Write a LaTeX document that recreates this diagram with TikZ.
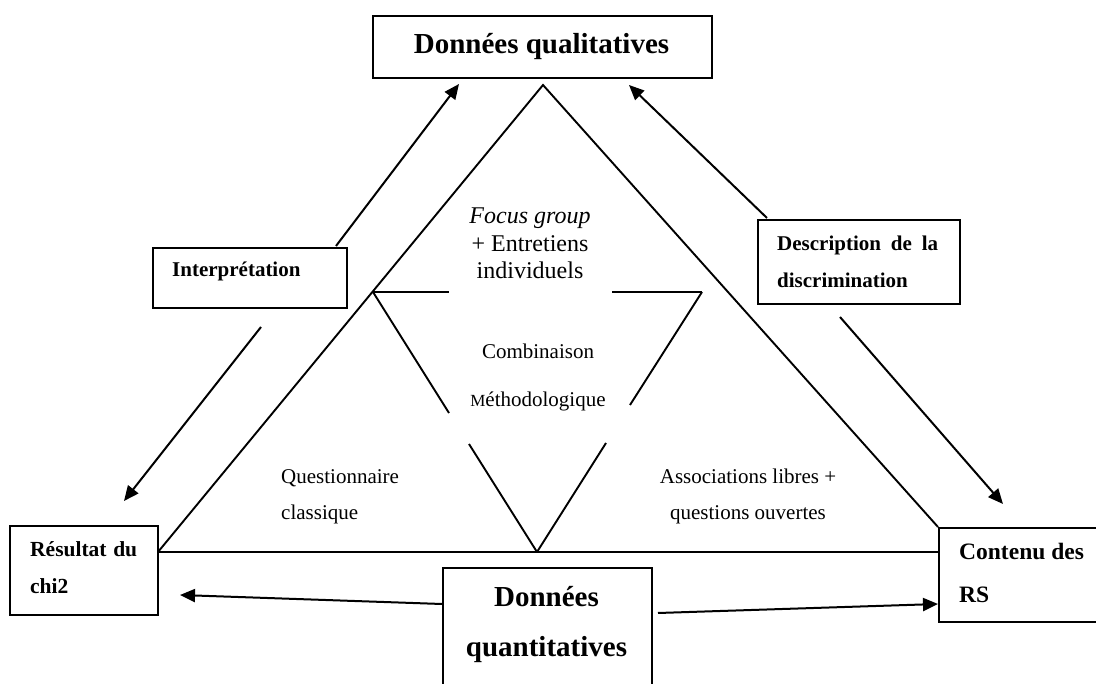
\documentclass[tikz,border=0pt]{standalone}
\usepackage{fontspec}
\setmainfont{Liberation Serif}
\usetikzlibrary{arrows.meta}
\begin{document}
\begin{tikzpicture}[x=1pt,y=-1pt,
  trl/.style={line width=1.9pt},
  boxn/.style={draw,line width=1.8pt,inner sep=0pt,anchor=north west},
  arr/.style={line width=2pt,-{Triangle[length=15pt,width=13pt]}},
  txt/.style={inner sep=0pt,anchor=base},
  txtl/.style={inner sep=0pt,anchor=base west},
  bigb/.style={font=\fontsize{29}{34}\selectfont\bfseries},
  midb/.style={font=\fontsize{21}{25}\selectfont\bfseries},
  regt/.style={font=\fontsize{24}{28}\selectfont},
  regm/.style={font=\fontsize{21}{25}\selectfont}
]
\useasboundingbox (0,0) rectangle (1096,684);

% boxes
\node[boxn,minimum width=339pt,minimum height=62pt] (qual) at (372,15) {};
\node[boxn,minimum width=209pt,minimum height=140pt] (quant) at (442,567) {};
\node[boxn,minimum width=194pt,minimum height=60pt] (interp) at (152,247) {};
\node[boxn,minimum width=202pt,minimum height=84pt] (descr) at (757,219) {};
\node[boxn,minimum width=148pt,minimum height=89pt] (chi) at (9,525) {};
\node[boxn,minimum width=175pt,minimum height=94pt] (cont) at (938,527) {};

% big triangle
\coordinate (apex) at (543,85);
\coordinate (bl) at (158,552);
\draw[trl] (bl) -- (apex) -- (cont.north west);
\draw[trl] (bl) -- (cont.west |- bl);

% inner V
\coordinate (vl) at (373,292);
\coordinate (vr) at (702,292);
\coordinate (vb) at (537,552);
\coordinate (h1) at (449,292);
\coordinate (h2) at (612,292);
\coordinate (l1) at (449,413);
\coordinate (l2) at (469,444);
\coordinate (r1) at (630,405);
\coordinate (r2) at (606,443);
\draw[trl] (vl) -- (h1);
\draw[trl] (h2) -- (vr);
\draw[trl] (vl) -- (l1);
\draw[trl] (l2) -- (vb);
\draw[trl] (vr) -- (r1);
\draw[trl] (r2) -- (vb);

% arrows
\coordinate (a1s) at (336,246);
\coordinate (a1e) at (459,84);
\coordinate (a2s) at (261,327);
\coordinate (a2e) at (124,501);
\coordinate (a3s) at (767,218);
\coordinate (a3e) at (629,85);
\coordinate (a4s) at (840,317);
\coordinate (a4e) at (1003,504);
\coordinate (a5s) at (442,604);
\coordinate (a5e) at (180,595);
\coordinate (a6s) at (658,613);
\coordinate (a6e) at (938,604);
\draw[arr] (a1s) -- (a1e);
\draw[arr] (a2s) -- (a2e);
\draw[arr] (a3s) -- (a3e);
\draw[arr] (a4s) -- (a4e);
\draw[arr] (a5s) -- (a5e);
\draw[arr] (a6s) -- (a6e);

% texts
\node[txt,bigb] (tqual) at (541.5,53.5) {Données qualitatives};
\node[txt,bigb] (tquant1) at (546.5,606) {Données};
\node[txt,bigb] (tquant2) at (546.5,656) {quantitatives};
\node[txtl,midb] (tinterp) at (172,277) {Interprétation};
\node[txtl,midb] (tdesc1) at (777,250.5) {\makebox[161pt][s]{Description de la}};
\node[txtl,midb] (tdesc2) at (777,287.5) {discrimination};
\node[txtl,font=\fontsize{21.5}{25}\selectfont\bfseries] (tchi1) at (30,556.5) {\makebox[107pt][s]{Résultat du}};
\node[txtl,font=\fontsize{21.5}{25}\selectfont\bfseries] (tchi2) at (30,593.3) {chi2};
\node[txtl,font=\fontsize{23.5}{27}\selectfont\bfseries] (tcont1) at (959,560) {Contenu des};
\node[txtl,font=\fontsize{23.5}{27}\selectfont\bfseries] (tcont2) at (959,602) {RS};
\node[txt,regt] (tfoc1) at (530,224) {\itshape Focus group};
\node[txt,regt] (tfoc2) at (530,251.7) {+ Entretiens};
\node[txt,regt] (tfoc3) at (530,279) {individuels};
\node[txt,regm] (tcomb1) at (538,358.3) {Combinaison};
\node[txt,regm] (tcomb2) at (538,406.7) {{\fontsize{17}{17}\selectfont M}éthodologique};
\node[txtl,regm] (tq1) at (281,484) {Questionnaire};
\node[txtl,regm] (tq2) at (281,520) {classique};
\node[txt,regm] (tas1) at (748,484) {Associations libres +};
\node[txt,regm] (tas2) at (748,520) {questions ouvertes};
\end{tikzpicture}
\end{document}
